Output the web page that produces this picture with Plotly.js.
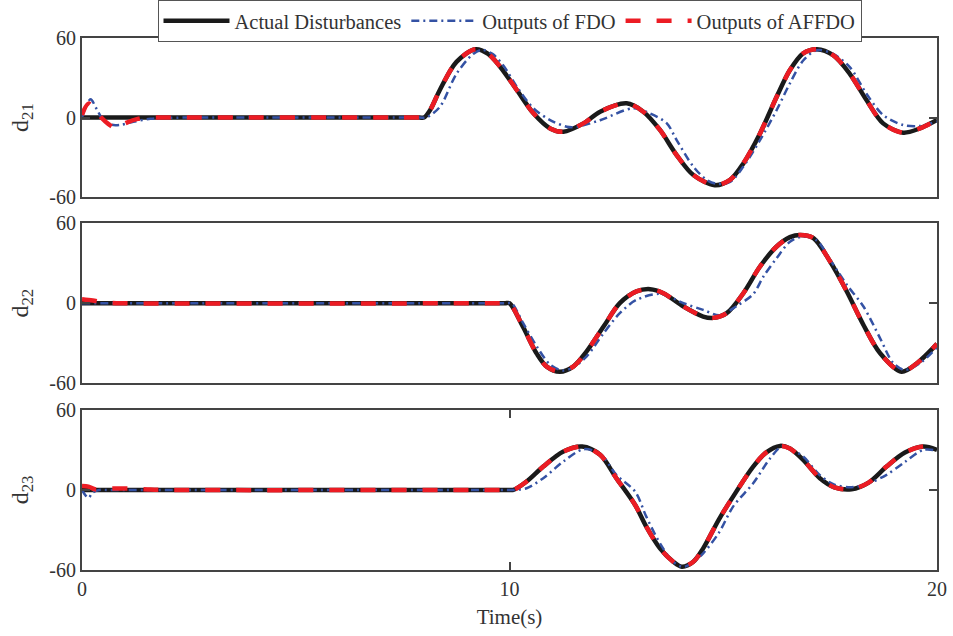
<!DOCTYPE html>
<html>
<head>
<meta charset="utf-8">
<script src="https://cdn.plot.ly/plotly-3.0.1.min.js"></script>
<style>html,body{margin:0;padding:0;background:#fff;}#chart{width:953px;height:636px;}</style>
</head>
<body>
<div id="chart"></div>
<script>
// ---- d21 ----
var t21Act = [0, 7.7, 7.9, 8.0, 8.15, 8.37, 8.76, 9.2, 9.5, 9.78, 10.17, 10.56, 10.95, 11.26, 11.73, 12.12, 12.74, 13.13, 13.52, 13.91, 14.3, 14.8, 15.16, 15.47, 15.86, 16.25, 16.56, 16.87, 17.19, 17.57, 17.96, 18.35, 18.74, 19.21, 19.6, 20];
var d21Act = [0, 0, 0, 0, 6, 20.8, 42, 51.5, 48, 38.3, 20.8, 3.2, -8.2, -10.7, -4.4, 4.4, 10.7, 4.4, -9.4, -28.3, -43.4, -51, -47, -34.6, -12, 15.7, 35.8, 48.4, 51.5, 47, 33, 13.2, -4.4, -11.4, -8.2, -1.9];
var t21Fdo = [0, 0.1, 0.2, 0.35, 0.5, 0.7, 0.9, 1.2, 1.6, 2.0, 2.5, 7.5, 7.9, 8.05, 8.37, 8.76, 9.15, 9.35, 9.6, 9.86, 10.17, 10.56, 10.95, 11.34, 11.57, 12.12, 12.9, 13.29, 13.68, 13.91, 14.3, 14.61, 14.85, 15.16, 15.47, 15.86, 16.25, 16.56, 16.87, 17.19, 17.57, 17.96, 18.35, 18.74, 19.21, 19.6, 20];
var d21Fdo = [0, 9, 13.7, 6, -2, -5.5, -5.5, -3.2, -1, -0.3, 0, 0, 0, 0, 8, 33, 48, 51, 48, 39, 23.3, 6.9, -1.9, -6.9, -7, -2, 7, 3, -4.4, -17, -37, -47, -50, -48.6, -37, -17, 5.7, 25.8, 43, 50.7, 48, 38, 18, 1.9, -5.7, -6.4, -3];
var t21Aff = [0, 0.15, 0.3, 0.45, 0.62, 0.8, 1.0, 1.3, 1.6, 2.0, 7.7, 7.9, 8.0, 8.15, 8.37, 8.76, 9.2, 9.5, 9.78, 10.17, 10.56, 10.95, 11.26, 11.73, 12.12, 12.74, 13.13, 13.52, 13.91, 14.3, 14.8, 15.16, 15.47, 15.86, 16.25, 16.56, 16.87, 17.19, 17.57, 17.96, 18.35, 18.74, 19.21, 19.6, 20];
var d21Aff = [2, 10.5, 6, 0, -5, -8.2, -4.5, -1, 0, 0, 0, 0, 0, 6, 20.8, 42, 51.5, 48, 38.3, 20.8, 3.2, -8.2, -10.7, -4.4, 4.4, 10.7, 4.4, -9.4, -28.3, -43.4, -51, -47, -34.6, -12, 15.7, 35.8, 48.4, 51.5, 47, 33, 13.2, -4.4, -11.4, -8.2, -1.9];

// ---- d22 ----
var t22Act = [0, 9.7, 9.9, 10.0, 10.32, 10.64, 10.87, 11.18, 11.49, 11.8, 12.2, 12.58, 12.97, 13.29, 13.6, 14.07, 14.53, 14.77, 15.08, 15.47, 15.86, 16.25, 16.56, 16.8, 17.11, 17.5, 17.89, 18.28, 18.67, 19.17, 19.53, 20];
var d22Act = [0, 0, 0, 0, -18, -38, -47.5, -51.3, -47.5, -36.3, -17.5, 0, 8.8, 10.5, 7.5, -2.5, -10, -11, -7.5, 7.5, 27.5, 42.5, 49.5, 51.2, 48.8, 31.2, 8.8, -16.3, -37.5, -51.3, -45, -30.5];
var t22Fdo = [0, 9.7, 9.95, 10.05, 10.32, 10.64, 10.95, 11.26, 11.49, 11.8, 12.2, 12.58, 12.97, 13.52, 14.07, 14.53, 14.92, 15.32, 15.7, 15.94, 16.25, 16.56, 16.87, 17.19, 17.5, 17.89, 18.28, 18.67, 18.98, 19.25, 19.6, 20];
var d22Fdo = [0, 0, 0, 0, -15, -32.5, -46, -50.5, -48, -40, -22.5, -7.5, 2.5, 7, 0, -5, -9, -2, 6.8, 20, 33.8, 46, 50, 47, 32.5, 13.8, -2.5, -26.3, -45, -50, -45, -33];
var t22Aff = [0, 0.25, 0.5, 0.8, 9.7, 9.9, 10.0, 10.32, 10.64, 10.87, 11.18, 11.49, 11.8, 12.2, 12.58, 12.97, 13.29, 13.6, 14.07, 14.53, 14.77, 15.08, 15.47, 15.86, 16.25, 16.56, 16.8, 17.11, 17.5, 17.89, 18.28, 18.67, 19.17, 19.53, 20];
var d22Aff = [3, 2, 0.5, 0, 0, 0, 0, -18, -38, -47.5, -51.3, -47.5, -36.3, -17.5, 0, 8.8, 10.5, 7.5, -2.5, -10, -11, -7.5, 7.5, 27.5, 42.5, 49.5, 51.2, 48.8, 31.2, 8.8, -16.3, -37.5, -51.3, -45, -30.5];

// ---- d23 ----
var t23Act = [0, 9.8, 10.0, 10.09, 10.4, 10.79, 11.26, 11.7, 12.12, 12.5, 12.94, 13.2, 13.52, 13.83, 14.03, 14.3, 14.53, 14.9, 15.23, 15.7, 16.0, 16.33, 16.56, 16.87, 17.26, 17.6, 18.0, 18.4, 18.82, 19.25, 19.68, 20];
var d23Act = [0, 0, 0, 0, 6.3, 17.5, 28.8, 32.5, 26.3, 8.8, -11.3, -27.5, -43.8, -53.8, -57.5, -53.8, -43.8, -22, -5, 17.5, 28, 33, 31, 22.5, 8.8, 2, 0.5, 5.5, 17.5, 28, 32.5, 30];
var t23Fdo = [0, 0.08, 0.15, 0.25, 0.4, 0.6, 9.8, 10.0, 10.1, 10.4, 10.79, 11.26, 11.73, 12.12, 12.5, 12.94, 13.2, 13.52, 13.83, 14.07, 14.3, 14.53, 14.9, 15.23, 15.7, 16.1, 16.37, 16.6, 16.87, 17.26, 17.6, 18.0, 18.4, 18.82, 19.25, 19.68, 20];
var d23Fdo = [0, -4, -6, -2, 0, 0, 0, 0, 0, 1.3, 8.8, 21.3, 30.5, 27, 11.3, -1.3, -20, -40, -53.8, -57.7, -54, -47.5, -32, -12.5, 5, 23.8, 32.5, 30, 25, 11, 4, 2, 5, 11.3, 21, 30, 29.5];
var t23Aff = [0, 0.15, 0.3, 0.6, 1.2, 1.6, 2.0, 9.8, 10.0, 10.09, 10.4, 10.79, 11.26, 11.7, 12.12, 12.5, 12.94, 13.2, 13.52, 13.83, 14.03, 14.3, 14.53, 14.9, 15.23, 15.7, 16.0, 16.33, 16.56, 16.87, 17.26, 17.6, 18.0, 18.4, 18.82, 19.25, 19.68, 20];
var d23Aff = [3, 2.5, 0.5, 1, 1, 0.3, 0, 0, 0, 0, 6.3, 17.5, 28.8, 32.5, 26.3, 8.8, -11.3, -27.5, -43.8, -53.8, -57.5, -53.8, -43.8, -22, -5, 17.5, 28, 33, 31, 22.5, 8.8, 2, 0.5, 5.5, 17.5, 28, 32.5, 30];

var seriesNames = ['Actual Disturbances', 'Outputs of FDO', 'Outputs of AFFDO'];
var yTitles = ['d<sub>21</sub>', 'd<sub>22</sub>', 'd<sub>23</sub>'];
var yTickVals = [-60, 0, 60];
var yTickText = ['-60', '0', '60'];
var xTickVals = [0, 10, 20];
var xTickText = ['0', '10', '20'];
var xTitle = 'Time(s)';

var colors = ['#1a1a1a', '#3452a4', '#ec1c24'];
var FONT = 'Liberation Serif, Times New Roman, serif';

var groups = [
  [[t21Act, d21Act], [t21Fdo, d21Fdo], [t21Aff, d21Aff]],
  [[t22Act, d22Act], [t22Fdo, d22Fdo], [t22Aff, d22Aff]],
  [[t23Act, d23Act], [t23Fdo, d23Fdo], [t23Aff, d23Aff]]
];
var lineStyles = [
  {width: 4.5, dash: 'solid'},
  {width: 2.5, dash: '8px,4px,2px,4px'},
  {width: 4.5, dash: '15px,16px'}
];

var traces = [];
groups.forEach(function (g, gi) {
  g.forEach(function (s, si) {
    traces.push({
      type: 'scatter', mode: 'lines',
      x: s[0], y: s[1],
      xaxis: gi === 0 ? 'x' : 'x' + (gi + 1),
      yaxis: gi === 0 ? 'y' : 'y' + (gi + 1),
      name: seriesNames[si],
      showlegend: gi === 0,
      line: {color: colors[si], width: lineStyles[si].width, dash: lineStyles[si].dash, shape: 'spline', smoothing: 0.9}
    });
  });
});

var axColor = '#444444';
function yAxis(domain, anchor, title) {
  return {
    domain: domain, anchor: anchor, range: [-60, 60],
    tickvals: yTickVals, ticktext: yTickText,
    ticks: 'inside', ticklen: 8, tickwidth: 2, tickcolor: axColor,
    showline: true, linecolor: axColor, linewidth: 2, mirror: 'ticks',
    showgrid: false, zeroline: false,
    tickfont: {family: FONT, size: 20, color: '#333'},
    title: {text: title, font: {family: FONT, size: 24, color: '#333'}, standoff: 14}
  };
}
function xAxis(anchor, showLabels) {
  var a = {
    anchor: anchor, range: [0, 20], domain: [0, 1],
    showline: true, linecolor: axColor, linewidth: 2,
    showgrid: false, zeroline: false,
    tickfont: {family: FONT, size: 20, color: '#333'}
  };
  if (showLabels) {
    a.tickvals = xTickVals; a.ticktext = xTickText;
    a.ticks = 'inside'; a.ticklen = 8; a.tickwidth = 2; a.tickcolor = axColor;
    a.mirror = 'ticks';
    a.title = {text: xTitle, font: {family: FONT, size: 21, color: '#333'}, standoff: 10};
  } else {
    a.showticklabels = false; a.ticks = ''; a.mirror = true;
  }
  return a;
}

var layout = {
  width: 953, height: 636,
  margin: {l: 82, r: 16, t: 38, b: 66, autoexpand: false},
  paper_bgcolor: '#ffffff', plot_bgcolor: '#ffffff',
  showlegend: true,
  legend: {
    orientation: 'h', x: 0.5, xanchor: 'center', y: 1.0714, yanchor: 'top',
    bordercolor: '#555', borderwidth: 1, bgcolor: '#fff',
    font: {family: FONT, size: 20.5, color: '#333'},
    itemwidth: 66, tracegroupgap: 0
  },
  xaxis: xAxis('y', false),
  xaxis2: xAxis('y2', false),
  xaxis3: xAxis('y3', true),
  yaxis: yAxis([0.701, 1.0], 'x', yTitles[0]),
  yaxis2: yAxis([0.351, 0.652], 'x2', yTitles[1]),
  yaxis3: yAxis([0, 0.301], 'x3', yTitles[2])
};

Plotly.newPlot('chart', traces, layout, {staticPlot: true, displayModeBar: false});
</script>
</body>
</html>
